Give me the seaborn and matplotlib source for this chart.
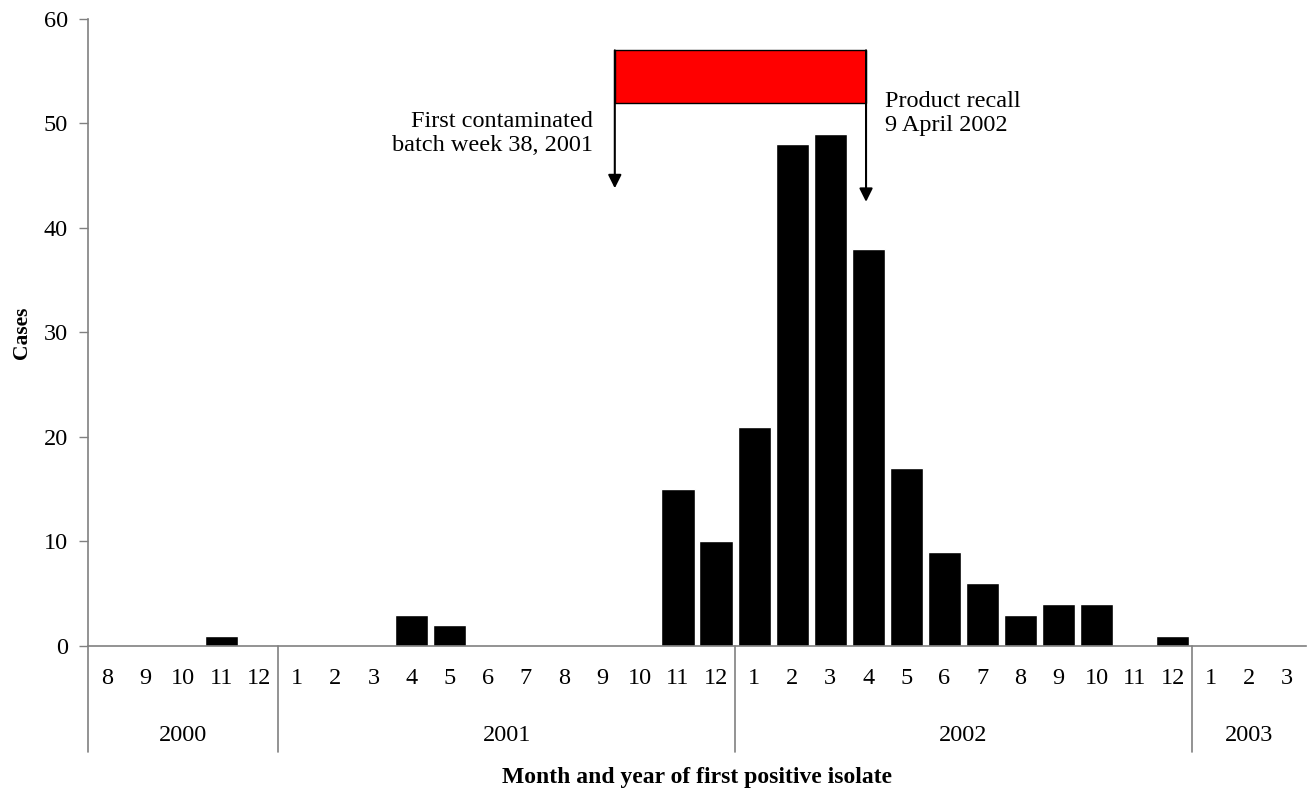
import seaborn as sns
import matplotlib.pyplot as plt
import pandas as pd
from matplotlib.patches import Rectangle

# monthly case counts, Aug 2000 - Mar 2003
years = [2000] * 5 + [2001] * 12 + [2002] * 12 + [2003] * 3
months = [8, 9, 10, 11, 12] + list(range(1, 13)) + list(range(1, 13)) + [1, 2, 3]
cases = [0, 0, 0, 1, 0,
         0, 0, 0, 3, 2, 0, 0, 0, 0, 0, 15, 10,
         21, 48, 49, 38, 17, 9, 6, 3, 4, 4, 0, 1,
         0, 0, 0]

year_labels = ['2000', '2001', '2002', '2003']

df = pd.DataFrame({'year': years, 'month': months, 'cases': cases})
df['period'] = df['year'].astype(str) + '-' + df['month'].astype(str)

sns.set_style('white')
plt.rcParams['font.family'] = ['Liberation Serif', 'DejaVu Serif']
plt.rcParams['text.color'] = 'black'
plt.rcParams['axes.labelcolor'] = 'black'
plt.rcParams['xtick.color'] = 'black'
plt.rcParams['ytick.color'] = 'black'

fs = 17.5

fig = plt.figure(figsize=(13.07, 7.9), dpi=100)
ax = fig.add_axes([0.0673, 0.1823, 0.932, 0.7937])

sns.barplot(data=df, x='period', y='cases', color='black', width=0.87,
            saturation=1, ax=ax)

ax.set_ylim(0, 60)
ax.set_xlim(-0.5, len(df) - 0.5)
ax.set_yticks(range(0, 61, 10))
ax.tick_params(axis='y', labelsize=fs, length=6.5, width=1, color='#808080',
               labelcolor='black', pad=8, left=True)
ax.set_xticks(range(len(df)))
ax.set_xticklabels(df['month'], fontsize=fs)
ax.tick_params(axis='x', length=0, pad=16, labelcolor='black')

for side in ['top', 'right']:
    ax.spines[side].set_visible(False)
for side in ['left', 'bottom']:
    ax.spines[side].set_color('#808080')
    ax.spines[side].set_linewidth(1.2)

# year separators and labels below the axis
tr = ax.get_xaxis_transform()
bounds = [-0.5]
for y in [2000, 2001, 2002, 2003]:
    idx = df.index[df['year'] == y]
    bounds.append(idx[-1] + 0.5)
for b in bounds[:-1]:
    ax.plot([b, b], [0, -0.169], transform=tr, color='#808080', lw=1.2, clip_on=False)
for i, lab in enumerate(year_labels):
    ax.text((bounds[i] + bounds[i + 1]) / 2, -0.143, lab, transform=tr,
            ha='center', va='center', fontsize=fs)

ax.set_xlabel('Month and year of first positive isolate', fontsize=17,
              fontweight='bold')
ax.xaxis.set_label_coords(0.5, -0.209)
ax.xaxis.label.set_va('center')
ax.set_ylabel('Cases', fontsize=15.5, fontweight='bold')
ax.yaxis.set_label_coords(-0.054, 0.5)
ax.yaxis.label.set_va('center')

# exposure period box and arrows
x_start, x_end = 13.34, 19.94
ax.add_patch(Rectangle((x_start, 52), x_end - x_start, 5, facecolor='red',
                       edgecolor='black', lw=1, zorder=3))
ax.annotate('', xy=(x_start, 43.8), xytext=(x_start, 57),
            arrowprops=dict(arrowstyle='-|>', color='black', lw=1.5,
                            mutation_scale=20, shrinkA=0, shrinkB=0))
ax.annotate('', xy=(x_end, 42.5), xytext=(x_end, 57),
            arrowprops=dict(arrowstyle='-|>', color='black', lw=1.5,
                            mutation_scale=20, shrinkA=0, shrinkB=0))
ax.text(12.77, 51.2, 'First contaminated\nbatch week 38, 2001',
        ha='right', va='top', fontsize=fs, linespacing=1.2)
ax.text(20.44, 53.1, 'Product recall\n9 April 2002',
        ha='left', va='top', fontsize=fs, linespacing=1.2)

fig.savefig('out.png', dpi=100)
